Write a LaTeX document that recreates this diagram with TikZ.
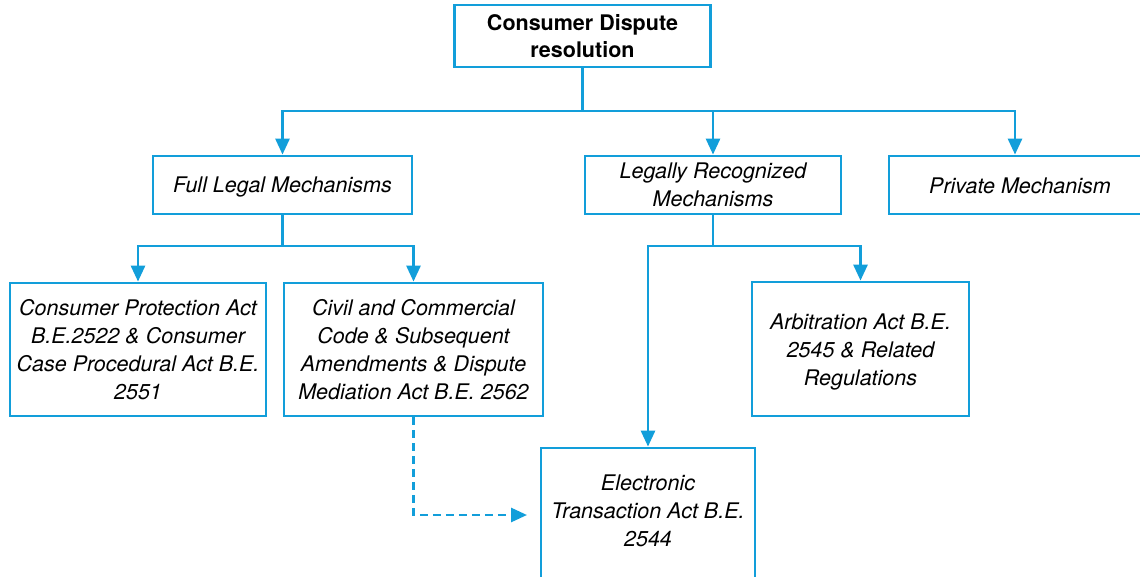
\documentclass[tikz,border=0pt]{standalone}
\usepackage{fontspec}
\setmainfont{TeX Gyre Heros}
\usetikzlibrary{arrows.meta}
\definecolor{flow}{RGB}{18,158,218}
\newcommand{\shiftup}[2]{\raisebox{#1}[\height][\depth]{#2}}
\begin{document}
\begin{tikzpicture}[x=1pt,y=-1pt,
  box/.style={draw=flow,line width=2.8pt,fill=white,align=center,inner sep=0pt,
    font=\fontsize{21.5}{28}\selectfont\itshape},
  conn/.style={draw=flow,line width=2.8pt},
  arr/.style={conn,-{Triangle[length=16pt,width=14pt]}},
  dashline/.style={arr,dash pattern=on 8pt off 5pt}]
\useasboundingbox (0,0) rectangle (1140,577);
\node[box,font=\fontsize{21.5}{27.5}\selectfont\bfseries,minimum width=256pt,minimum height=62pt] (top) at (582.5,36) {Consumer Dispute\\resolution};
\node[box,minimum width=259pt,minimum height=58pt] (full) at (282.5,185) {\shiftup{-2pt}{Full Legal Mechanisms}};
\node[box,minimum width=256pt,minimum height=58pt] (legal) at (713,185) {Legally Recognized\\Mechanisms};
\node[box,minimum width=262pt,minimum height=58pt] (priv) at (1020,185) {\shiftup{-1pt}{Private Mechanism}};
\node[box,minimum width=256pt,minimum height=133pt] (cpa) at (138,349.5) {Consumer Protection Act\\B.E.2522 \& Consumer\\Case Procedural Act B.E.\\2551};
\node[box,minimum width=259pt,minimum height=133pt] (civil) at (413.5,349.5) {Civil and Commercial\\Code \& Subsequent\\Amendments \& Dispute\\Mediation Act B.E. 2562};
\node[box,minimum width=217pt,minimum height=134pt] (arb) at (860.5,349) {\shiftup{-3pt}{\begin{tabular}{@{}c@{}}Arbitration Act B.E.\\2545 \& Related\\Regulations\end{tabular}}};
\node[box,minimum width=214pt,minimum height=134pt] (elec) at (648,515) {\shiftup{2pt}{\begin{tabular}{@{}c@{}}Electronic\\Transaction Act B.E.\\2544\end{tabular}}};
\coordinate (j1) at (582.5,111);
\coordinate (j2) at (282.5,246);
\coordinate (j3) at (713,246);
\coordinate (dend) at (527,515);
\draw[conn] (top.south) -- (j1);
\draw[arr] (j1) -| (full.north);
\draw[arr] (j1) -| (legal.north);
\draw[arr] (j1) -| ([xshift=-5pt]priv.north);
\draw[conn] (full.south) -- (j2);
\draw[arr] (j2) -| (cpa.north);
\draw[arr] (j2) -| (civil.north);
\draw[conn] (legal.south) -- (j3);
\draw[arr] (j3) -| (arb.north);
\draw[arr] (j3) -| (elec.north);
\draw[dashline] (civil.south) |- (dend);
\end{tikzpicture}
\end{document}
